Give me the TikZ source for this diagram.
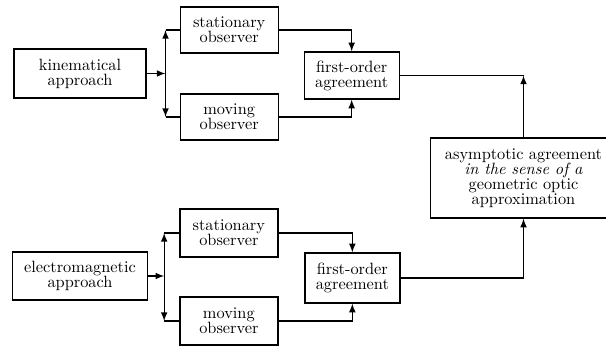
\documentclass[tikz,border=0pt]{standalone}
\usepackage{tikz}
\usetikzlibrary{arrows}

\begin{document}
\begin{tikzpicture}[
      box/.style={
        rectangle,
        draw=black,
        thick,
        text centered,
        align=center,
        inner sep=1pt,
        font=\fontsize{9.8}{9}\selectfont
      },
      link/.style={thick}
    ]

    \clip (-48pt,44.1pt) rectangle (315.6pt,-164.1pt);

    % upper chain
    \node [box, minimum width=79pt, minimum height=29.4pt] (KinApp) {kinematical\\approach};
    \node [box, minimum width=58.8pt, minimum height=27.6pt, anchor=west, xshift=19.8pt, yshift=26.1pt] (KinStat) at (KinApp.east) {stationary\\observer};
    \node [box, minimum width=58.8pt, minimum height=27.6pt, anchor=west, xshift=19.8pt, yshift=-26.1pt] (KinMov) at (KinApp.east) {moving\\observer};
    \node [box, minimum width=57pt, minimum height=28.2pt, anchor=west, xshift=94.2pt, yshift=-1.2pt] (KinFirst) at (KinApp.east) {first-order\\agreement};

    \node [box, minimum width=111.6pt, minimum height=48pt, anchor=west, xshift=18pt, yshift=-61.5pt] (Asym) at (KinFirst.east) {asymptotic agreement\\\textit{in the sense of a}\\geometric optic\\approximation};

    % lower chain
    \node [box, minimum width=81pt, minimum height=28.8pt, yshift=-121.5pt] (EmApp) at (KinApp.center) {electromagnetic\\approach};
    \node [box, minimum width=58.8pt, minimum height=28.8pt, anchor=west, xshift=18.6pt, yshift=25.8pt] (EmStat) at (EmApp.east) {stationary\\observer};
    \node [box, minimum width=58.8pt, minimum height=28.8pt, anchor=west, xshift=18.6pt, yshift=-27pt] (EmMov) at (EmApp.east) {moving\\observer};
    \node [box, minimum width=57pt, minimum height=30pt, anchor=west, xshift=93.6pt, yshift=-1.2pt] (EmFirst) at (EmApp.east) {first-order\\agreement};

    \coordinate [xshift=11.4pt] (KinFork) at (KinApp.east);
    \coordinate [xshift=9.6pt] (EmFork) at (EmApp.east);

    \draw [link, -latex] (KinApp.east) -- (KinFork);
    \draw [link, -latex] (KinFork) -- (KinFork |- KinStat.west);
    \draw [link] (KinFork |- KinStat.west) -- (KinStat.west);
    \draw [link, -latex] (KinFork) -- (KinFork |- KinMov.west);
    \draw [link] (KinFork |- KinMov.west) -- (KinMov.west);
    \draw [link, -latex] (KinStat.east) -| (KinFirst.north);
    \draw [link, -latex] (KinMov.east) -| (KinFirst.south);

    \draw [link, -latex] (EmApp.east) -- (EmFork);
    \draw [link, -latex] (EmFork) -- (EmFork |- EmStat.west);
    \draw [link] (EmFork |- EmStat.west) -- (EmStat.west);
    \draw [link, -latex] (EmFork) -- (EmFork |- EmMov.west);
    \draw [link] (EmFork |- EmMov.west) -- (EmMov.west);
    \draw [link, -latex] (EmStat.east) -| (EmFirst.north);
    \draw [link, -latex] (EmMov.east) -| (EmFirst.south);

    \draw [link, -latex] (Asym.north) -- (Asym.north |- KinFirst.east);
    \draw [link] (Asym.north |- KinFirst.east) -- (KinFirst.east);
    \draw [link, -latex] (EmFirst.east) -| (Asym.south);

    \end{tikzpicture}
\end{document}
